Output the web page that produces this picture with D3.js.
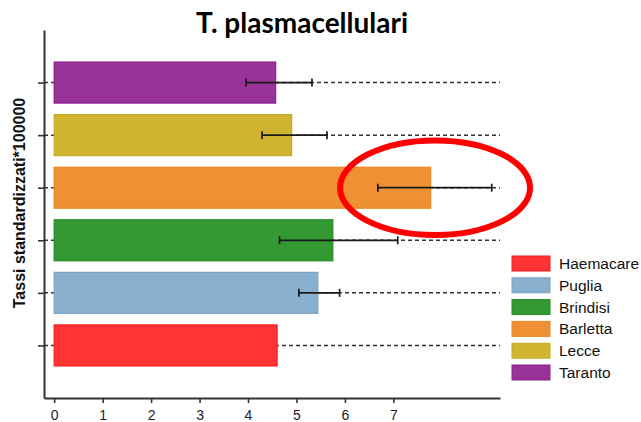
<!DOCTYPE html>
<html>
<head>
<meta charset="utf-8">
<script src="https://cdn.jsdelivr.net/npm/d3@7"></script>
<style>
  body { margin: 0; background: #fff; }
</style>
</head>
<body>
<div id="chart"></div>
<script>
// data, bottom to top
var categories = ["Haemacare", "Puglia", "Brindisi", "Barletta", "Lecce", "Taranto"];
var rates = [4.60, 5.44, 5.75, 7.77, 4.90, 4.57];
var ciLow = [null, 5.05, 4.65, 6.68, 4.29, 3.96];
var ciHigh = [null, 5.89, 7.09, 9.03, 5.63, 5.32];
var fills = ["#ff3333", "#8ab0cf", "#339933", "#ee9033", "#cfb530", "#993399"];
var strokes = ["#ff1a1a", "#7aa3c6", "#228b22", "#ea8a22", "#c8ac22", "#8b1f8b"];
var xTicks = [0, 1, 2, 3, 4, 5, 6, 7];

var margin = { top: 30, right: 141, bottom: 24, left: 44 },
    width = 641 - margin.left - margin.right,
    height = 422 - margin.top - margin.bottom;

var svg = d3.select("#chart").append("svg")
    .attr("width", 641)
    .attr("height", 422)
  .append("g")
    .attr("transform", "translate(" + margin.left + "," + margin.top + ")");

var x = d3.scaleLinear().domain([-0.21, 9.2]).range([0, width]);
var y = d3.scalePoint().domain(categories).range([height, 0]).padding(1);
var barH = y.step() * 0.78;

// title
svg.append("text")
    .attr("x", 302 - margin.left)
    .attr("y", 3)
    .attr("text-anchor", "middle")
    .style("font-family", "Lato, 'Open Sans', sans-serif")
    .style("font-weight", "bold")
    .style("font-size", "28px")
    .style("fill", "#000")
    .text("T. plasmacellulari");

// y label
svg.append("text")
    .attr("transform", "translate(" + (25 - margin.left) + "," + (203 - margin.top) + ") rotate(-90)")
    .attr("text-anchor", "middle")
    .style("font-family", "'Liberation Sans', Arial, sans-serif")
    .style("font-weight", "bold")
    .style("font-size", "16px")
    .style("fill", "#111")
    .text("Tassi standardizzati*100000");

// dashed guide lines
svg.selectAll(".guide")
    .data(categories)
    .enter().append("line")
    .attr("class", "guide")
    .attr("x1", 0)
    .attr("x2", x(9.2))
    .attr("y1", function(d) { return y(d); })
    .attr("y2", function(d) { return y(d); })
    .attr("stroke", "#333")
    .attr("stroke-width", 1.5)
    .attr("stroke-dasharray", "4,3");

// bars
svg.selectAll(".bar")
    .data(categories)
    .enter().append("rect")
    .attr("class", "bar")
    .attr("x", x(0))
    .attr("y", function(d) { return y(d) - barH / 2; })
    .attr("width", function(d, i) { return x(rates[i]) - x(0); })
    .attr("height", barH)
    .attr("fill", function(d, i) { return fills[i]; })
    .attr("stroke", function(d, i) { return strokes[i]; })
    .attr("stroke-width", 1.2);

// error bars
var err = svg.selectAll(".err")
    .data(categories.filter(function(d, i) { return ciLow[i] !== null; }))
    .enter().append("g")
    .attr("class", "err");

err.append("line")
    .attr("x1", function(d) { return x(ciLow[categories.indexOf(d)]); })
    .attr("x2", function(d) { return x(ciHigh[categories.indexOf(d)]); })
    .attr("y1", function(d) { return y(d); })
    .attr("y2", function(d) { return y(d); })
    .attr("stroke", "#1a1a1a")
    .attr("stroke-width", 1.7);

err.selectAll(".cap")
    .data(function(d) {
        var i = categories.indexOf(d);
        return [{ c: d, v: ciLow[i] }, { c: d, v: ciHigh[i] }];
    })
    .enter().append("line")
    .attr("class", "cap")
    .attr("x1", function(d) { return x(d.v); })
    .attr("x2", function(d) { return x(d.v); })
    .attr("y1", function(d) { return y(d.c) - 4; })
    .attr("y2", function(d) { return y(d.c) + 4; })
    .attr("stroke", "#1a1a1a")
    .attr("stroke-width", 1.7);

// axes
var xAxis = svg.append("g")
    .attr("transform", "translate(0," + height + ")")
    .call(d3.axisBottom(x).tickValues(xTicks).tickSize(5).tickSizeOuter(0).tickFormat(d3.format("d")));

var yAxis = svg.append("g")
    .call(d3.axisLeft(y).tickSize(6).tickSizeOuter(0).tickFormat(""));

[xAxis, yAxis].forEach(function(a) {
    a.select(".domain").attr("stroke", "#333").attr("stroke-width", 2);
    a.selectAll(".tick line").attr("stroke", "#333").attr("stroke-width", 1.6);
});
xAxis.selectAll(".tick text")
    .attr("y", 9)
    .attr("dy", "0.95em")
    .style("font-family", "'Liberation Sans', Arial, sans-serif")
    .style("font-size", "14px")
    .style("fill", "#1a1a33");

// annotation ellipse round Barletta
svg.append("ellipse")
    .attr("cx", x(7.86))
    .attr("cy", y("Barletta"))
    .attr("rx", x(1.96) - x(0))
    .attr("ry", y.step() * 0.9)
    .attr("fill", "none")
    .attr("stroke", "#ff0000")
    .attr("stroke-width", 6);

// legend
var legend = svg.selectAll(".legend-item")
    .data(categories)
    .enter().append("g")
    .attr("class", "legend-item")
    .attr("transform", function(d, i) { return "translate(" + (512 - margin.left) + "," + (256 - margin.top + i * 21.8) + ")"; });

legend.append("rect")
    .attr("width", 38)
    .attr("height", 15)
    .attr("fill", function(d, i) { return fills[i]; })
    .attr("stroke", function(d, i) { return strokes[i]; })
    .attr("stroke-width", 1);

legend.append("text")
    .attr("x", 47)
    .attr("y", 7.5)
    .attr("dy", ".35em")
    .style("font-family", "'Liberation Sans', Arial, sans-serif")
    .style("font-size", "15.5px")
    .style("fill", "#111")
    .text(function(d) { return d; });
</script>
</body>
</html>
